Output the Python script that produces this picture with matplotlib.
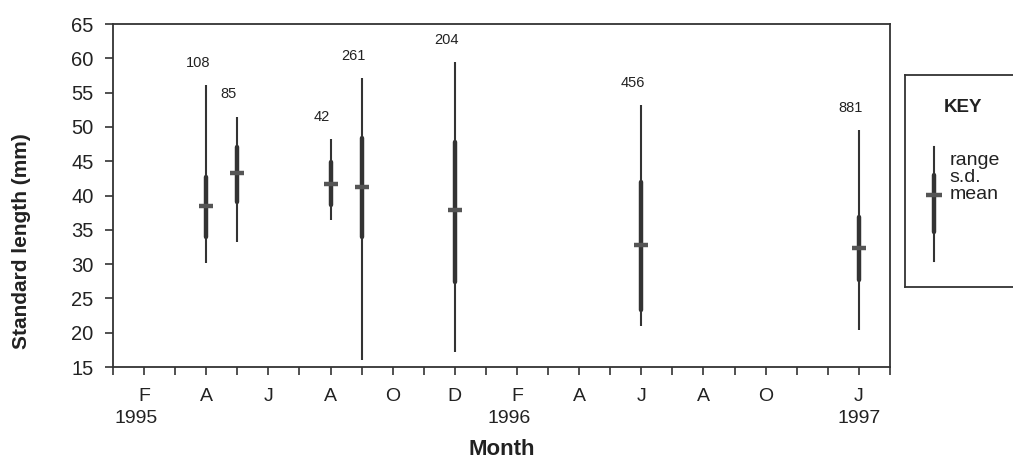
import matplotlib
matplotlib.use("Agg")
import matplotlib.pyplot as plt

plt.rcParams['font.family'] = ['Liberation Sans', 'DejaVu Sans']

# sampling month, counted from January 1995
months = [3, 4, 7, 8, 11, 17, 24]
n_fish = [108, 85, 42, 261, 204, 456, 881]
means = [38.5, 43.3, 41.7, 41.3, 37.9, 32.8, 32.3]
sd_low = [34.0, 39.1, 38.6, 34.0, 27.4, 23.3, 27.7]
sd_high = [42.7, 47.1, 44.9, 48.4, 47.8, 42.0, 36.9]
range_low = [30.2, 33.2, 36.4, 16.0, 17.2, 21.0, 20.4]
range_high = [56.1, 51.5, 48.2, 57.1, 59.5, 53.2, 49.5]

tick_pos = [1, 3, 5, 7, 9, 11, 13, 15, 17, 19, 21, 24]
tick_labels = ['F', 'A', 'J', 'A', 'O', 'D', 'F', 'A', 'J', 'A', 'O', 'J']
year_pos = [1, 13, 24]
years = ['1995', '1996', '1997']

# key sample (in key-box units)
key_range = (0.12, 0.66)
key_sd = (0.26, 0.53)
key_mean = 0.435

INK = '#333333'
MEAN_C = '#555555'
TXT = '#222222'

fig = plt.figure(figsize=(10.13, 4.62), dpi=100)
ax = fig.add_axes([0.1115, 0.2056, 0.767, 0.7424])

for x, lo, hi in zip(months, range_low, range_high):
    ax.plot([x, x], [lo, hi], color=INK, lw=1.5, solid_capstyle='butt')
for x, lo, hi in zip(months, sd_low, sd_high):
    ax.plot([x, x], [lo, hi], color=INK, lw=3.2, solid_capstyle='round')
ax.plot(months, means, ls='none', marker='_', ms=10, mew=3.2, color=MEAN_C)

for x, top, n in zip(months, range_high, n_fish):
    ax.annotate(str(n), (x, top), xytext=(-6, 16), textcoords='offset points',
                ha='center', va='center', fontsize=10.5, color=TXT)

ax.set_xlim(0, 25)
ax.set_ylim(15, 65)
ax.set_yticks(range(15, 66, 5))
ax.set_xticks(range(0, 26), minor=True)
ax.set_xticks(tick_pos)
ax.set_xticklabels(tick_labels)
ax.tick_params(axis='both', which='both', direction='out', length=6, width=1.2,
               colors=INK, labelcolor=TXT, labelsize=14)
ax.tick_params(axis='x', which='major', pad=9)
ax.tick_params(axis='y', pad=8, labelsize=14.5)
for s in ax.spines.values():
    s.set_linewidth(1.3)
    s.set_color(INK)

for x, yr in zip(year_pos, years):
    dx = 0 if yr == '1997' else -6
    ax.annotate(yr, (x, 0), xycoords=('data', 'axes fraction'), xytext=(dx, -40),
                textcoords='offset points', ha='center', va='baseline',
                fontsize=14, color=TXT, annotation_clip=False)

ax.set_xlabel('Month', fontsize=16, fontweight='bold', color=TXT)
ax.xaxis.set_label_coords(0.5, -0.21)
ax.set_ylabel('Standard length (mm)', fontsize=15, fontweight='bold', color=TXT)
ax.yaxis.set_label_coords(-0.106, 0.367)

# key box
kax = fig.add_axes([0.893, 0.379, 0.12, 0.459])
kax.set_xlim(0, 1)
kax.set_ylim(0, 1)
kax.set_xticks([])
kax.set_yticks([])
for s in kax.spines.values():
    s.set_linewidth(1.3)
    s.set_color(INK)
kax.spines['right'].set_visible(False)
kax.text(0.48, 0.845, 'KEY', ha='center', va='center', fontsize=13.5, fontweight='bold', color=TXT)
kx = 0.24
kax.plot([kx, kx], key_range, color=INK, lw=1.5)
kax.plot([kx, kx], key_sd, color=INK, lw=3.2, solid_capstyle='round')
kax.plot([kx], [key_mean], marker='_', ms=12, mew=3.2, color=MEAN_C)
kax.text(0.37, 0.595, 'range', ha='left', va='center', fontsize=14, color=TXT)
kax.text(0.37, 0.515, 's.d.', ha='left', va='center', fontsize=14, color=TXT)
kax.text(0.37, 0.435, 'mean', ha='left', va='center', fontsize=14, color=TXT)

fig.savefig('out.png', dpi=100)
